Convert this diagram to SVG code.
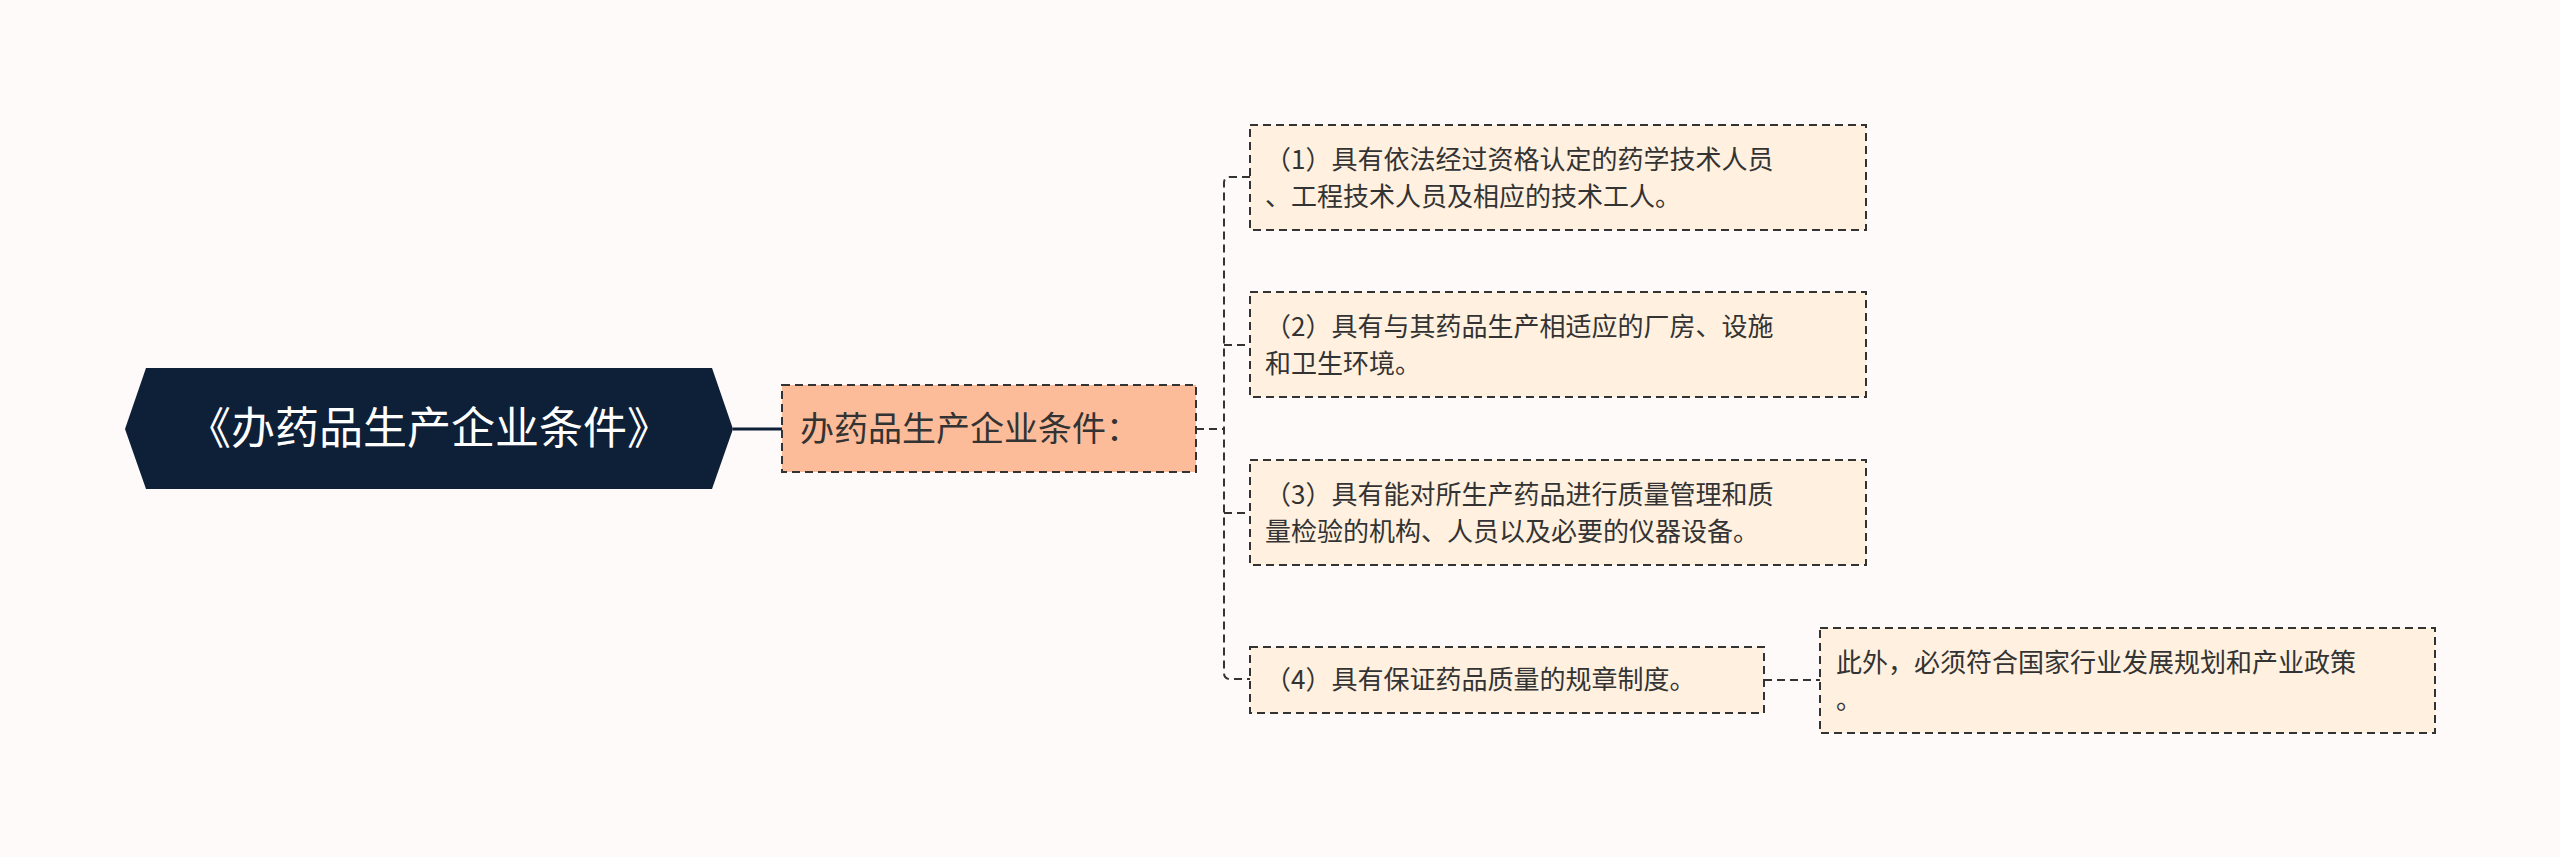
<svg xmlns="http://www.w3.org/2000/svg" width="2560" height="857" viewBox="0 0 2560 857">
<style>
.t{font-family:"Noto Sans CJK SC","Noto Sans",sans-serif;fill:#333}
.box{stroke:#333;stroke-width:2;stroke-dasharray:8 5}
.c{fill:none;stroke:#333;stroke-width:2;stroke-dasharray:8 5}
</style>
<rect width="2560" height="857" fill="#FDFAF9"/>
<g id="connectors">
<line x1="733" y1="429" x2="782" y2="429" stroke="#0E1F38" stroke-width="3"/>
<path class="c" d="M1196 429H1224M1250 177H1230Q1224 177 1224 183V673Q1224 679 1230 679H1250M1224 345H1250M1224 513H1250"/>
<path class="c" d="M1764 680H1820"/>
</g>
<g id="root">
<polygon points="146,368 712,368 733,429 712,489 146,489 125,429" fill="#0E1F38"/>
<text x="429" y="444" text-anchor="middle" font-size="44" class="t" style="fill:#fff">《办药品生产企业条件》</text>
</g>
<g id="mid">
<rect class="box" x="782" y="385" width="414" height="87" fill="#FDBC99"/>
<text x="800" y="441" font-size="34" class="t">办药品生产企业条件：</text>
</g>
<g id="c1">
<rect class="box" x="1250" y="125" width="616" height="105" fill="#FFF0DF"/>
<text x="1265" y="169" font-size="26" class="t">（1）具有依法经过资格认定的药学技术人员</text>
<text x="1265" y="206" font-size="26" class="t">、工程技术人员及相应的技术工人。</text>
</g>
<g id="c2">
<rect class="box" x="1250" y="292" width="616" height="105" fill="#FFF0DF"/>
<text x="1265" y="336" font-size="26" class="t">（2）具有与其药品生产相适应的厂房、设施</text>
<text x="1265" y="373" font-size="26" class="t">和卫生环境。</text>
</g>
<g id="c3">
<rect class="box" x="1250" y="460" width="616" height="105" fill="#FFF0DF"/>
<text x="1265" y="504" font-size="26" class="t">（3）具有能对所生产药品进行质量管理和质</text>
<text x="1265" y="541" font-size="26" class="t">量检验的机构、人员以及必要的仪器设备。</text>
</g>
<g id="c4">
<rect class="box" x="1250" y="647" width="514" height="66" fill="#FFF0DF"/>
<text x="1265" y="689" font-size="26" class="t">（4）具有保证药品质量的规章制度。</text>
</g>
<g id="c5">
<rect class="box" x="1820" y="628" width="615" height="105" fill="#FFF0DF"/>
<text x="1836" y="672" font-size="26" class="t">此外，必须符合国家行业发展规划和产业政策</text>
<text x="1836" y="709" font-size="26" class="t">。</text>
</g>
</svg>
